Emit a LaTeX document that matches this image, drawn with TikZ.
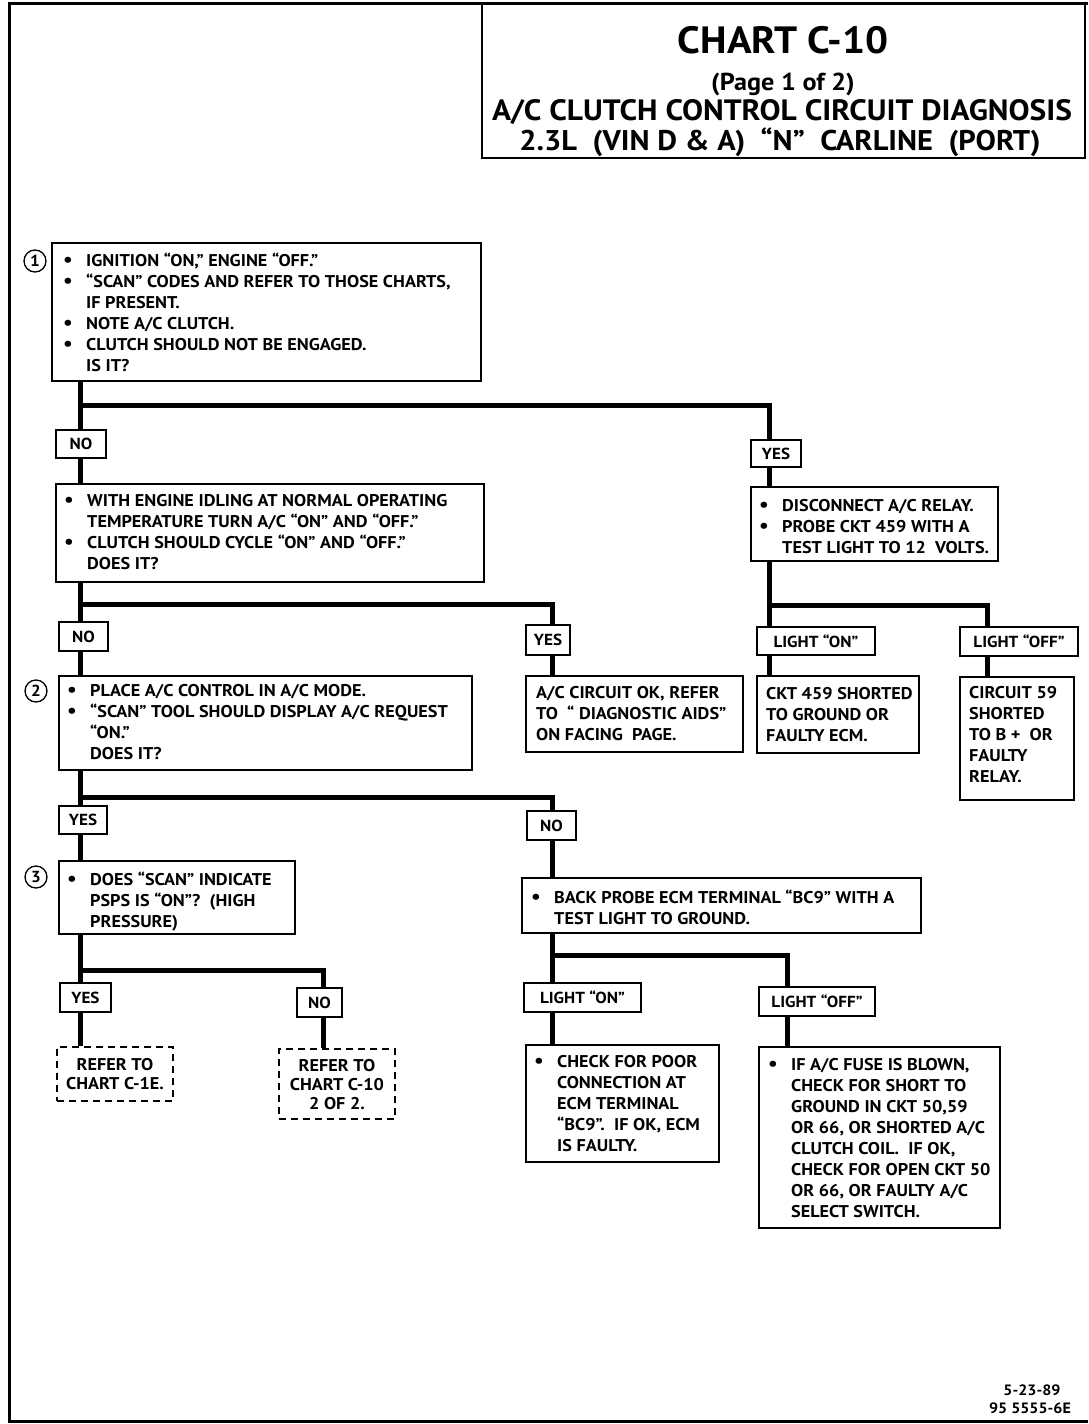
\documentclass[tikz,border=0pt]{standalone}
\usepackage{fontspec}
\setmainfont{PT Sans}[FakeStretch=1.07]
\usetikzlibrary{fit}
\newcommand{\bl}{\makebox[23pt][l]{\fontsize{20}{20}\selectfont •}}
\newcommand{\ct}{\hspace*{23pt}}
\tikzset{
 box/.style={draw, line width=1.6pt, inner sep=0pt},
 dbox/.style={draw, line width=1.6pt, dash pattern=on 7pt off 5pt, inner sep=0pt},
 lab/.style={draw, line width=1.6pt, inner sep=0pt, font=\bfseries\fontsize{16}{18}\selectfont},
 txt/.style={anchor=north west, inner sep=0pt, align=left, font=\bfseries\fontsize{17}{21}\selectfont},
 ctxt/.style={align=center, inner sep=0pt, font=\bfseries\fontsize{17}{19}\selectfont},
 conn/.style={line width=5pt},
 num/.style={circle, draw, line width=1.3pt, minimum size=22pt, inner sep=0pt, font=\bfseries\fontsize{16}{16}\selectfont},
 frame/.style={line width=3pt}
}
\begin{document}
\begin{tikzpicture}[x=1pt,y=-1pt]
\useasboundingbox (0,0) rectangle (1088,1424);
% frame
\draw[frame] (1088,3) -- (9,3) -- (9,1421) -- (1088,1421);
\node[box, fit={(482,3) (1085,158)}] (title) {};
\node[font=\bfseries\fontsize{38}{38}\selectfont] (t1) at (783,40) {CHART C-10};
\node[font=\bfseries\fontsize{24.5}{24.5}\selectfont] (t2) at (783,84) {(Page 1 of 2)};
\node[font=\bfseries\fontsize{29.4}{29.4}\selectfont] (t3) at (782,112) {A/C CLUTCH CONTROL CIRCUIT DIAGNOSIS};
\node[font=\bfseries\fontsize{28.5}{28.5}\selectfont] (t4) at (780,142) {2.3L\ \ (VIN D \& A)\ \ “N”\ \ CARLINE\ \ (PORT)};

% boxes
\node[box, fit={(52,243) (481,381)}] (b1) {};
\node[txt] (b1t) at (63,253) {\bl IGNITION “ON,” ENGINE “OFF.”\\
\bl “SCAN” CODES AND REFER TO THOSE CHARTS,\\
\ct IF PRESENT.\\
\bl NOTE A/C CLUTCH.\\
\bl CLUTCH SHOULD NOT BE ENGAGED.\\
\ct IS IT?};
\node[num] (n1) at (35,261) {1};

\node[box, fit={(56,484) (484,582)}] (b2) {};
\node[txt] (b2t) at (64,494) {\bl WITH ENGINE IDLING AT NORMAL OPERATING\\
\ct TEMPERATURE TURN A/C “ON” AND “OFF.”\\
\bl CLUTCH SHOULD CYCLE “ON” AND “OFF.”\\
\ct DOES IT?};

\node[box, fit={(59,676) (472,770)}] (b3) {};
\node[txt] (b3t) at (67,684) {\bl PLACE A/C CONTROL IN A/C MODE.\\
\bl “SCAN” TOOL SHOULD DISPLAY A/C REQUEST\\
\ct “ON.”\\
\ct DOES IT?};
\node[num] (n2) at (36,691) {2};

\node[box, fit={(59,861) (295,934)}] (b4) {};
\node[txt] (b4t) at (67,872) {\bl DOES “SCAN” INDICATE\\
\ct PSPS IS “ON”?\ \ (HIGH\\
\ct PRESSURE)};
\node[num] (n3) at (36,877) {3};

\node[dbox, fit={(57,1047) (173,1101)}] (r1) {};
\node[ctxt] (r1t) at (115,1074) {REFER TO\\CHART C-1E.};
\node[dbox, fit={(279,1049) (395,1119)}] (r2) {};
\node[ctxt] (r2t) at (337,1085) {REFER TO\\CHART C-10\\2 OF 2.};

\node[box, fit={(751,487) (998,561)}] (b5) {};
\node[txt] (b5t) at (759,499) {\bl DISCONNECT A/C RELAY.\\
\bl PROBE CKT 459 WITH A\\
\ct TEST LIGHT TO 12\ \ VOLTS.};

\node[box, fit={(526,676) (743,752)}] (b6) {};
\node[txt] (b6t) at (536,686) {A/C CIRCUIT OK, REFER\\
TO\ \ “ DIAGNOSTIC AIDS”\\
ON FACING\ \ PAGE.};

\node[box, fit={(757,676) (919,753)}] (b7) {};
\node[txt] (b7t) at (766,687) {CKT 459 SHORTED\\TO GROUND OR\\FAULTY ECM.};

\node[box, fit={(960,677) (1074,800)}] (b8) {};
\node[txt] (b8t) at (969,686) {CIRCUIT 59\\SHORTED\\TO B +\ \ OR\\FAULTY\\RELAY.};

\node[box, fit={(522,878) (921,933)}] (b9) {};
\node[txt] (b9t) at (531,890) {\bl BACK PROBE ECM TERMINAL “BC9” WITH A\\
\ct TEST LIGHT TO GROUND.};

\node[box, fit={(526,1045) (719,1162)}] (b10) {};
\node[txt] (b10t) at (534,1055) {\bl CHECK FOR POOR\\
\ct CONNECTION AT\\
\ct ECM TERMINAL\\
\ct “BC9”.\ \ IF OK, ECM\\
\ct IS FAULTY.};

\node[box, fit={(759,1047) (1000,1228)}] (b11) {};
\node[txt] (b11t) at (768,1058) {\bl IF A/C FUSE IS BLOWN,\\
\ct CHECK FOR SHORT TO\\
\ct GROUND IN CKT 50,59\\
\ct OR 66, OR SHORTED A/C\\
\ct CLUTCH COIL.\ \ IF OK,\\
\ct CHECK FOR OPEN CKT 50\\
\ct OR 66, OR FAULTY A/C\\
\ct SELECT SWITCH.};

% labels
\node[lab, minimum width=50pt, minimum height=28pt] (no1) at (81,444) {NO};
\node[lab, minimum width=50pt, minimum height=27pt] (yes1) at (776,453.5) {YES};
\node[lab, minimum width=49pt, minimum height=29pt] (no2) at (83.5,636.5) {NO};
\node[lab, minimum width=44pt, minimum height=30pt] (yes2) at (548,640) {YES};
\node[lab, minimum width=118pt, minimum height=28pt] (lon1) at (816,641) {LIGHT “ON”};
\node[lab, minimum width=118pt, minimum height=29pt] (loff1) at (1019,641.5) {LIGHT “OFF”};
\node[lab, minimum width=48pt, minimum height=28pt] (yes3) at (83,820) {YES};
\node[lab, minimum width=49pt, minimum height=29pt] (no3) at (551.5,825.5) {NO};
\node[lab, minimum width=51pt, minimum height=29pt] (yes4) at (85.5,997.5) {YES};
\node[lab, minimum width=45pt, minimum height=29pt] (no4) at (319.5,1002.5) {NO};
\node[lab, minimum width=117pt, minimum height=29pt] (lon2) at (582.5,997.5) {LIGHT “ON”};
\node[lab, minimum width=116pt, minimum height=29pt] (loff2) at (817,1001.5) {LIGHT “OFF”};

% junctions
\coordinate (jA1) at (80,405);  \coordinate (jB1) at (769,405);
\coordinate (jA2) at (80,604);  \coordinate (jD2) at (552,604);
\coordinate (jB2) at (769,605); \coordinate (jC2) at (987,605);
\coordinate (jA3) at (80,797);  \coordinate (jD3) at (552,797);
\coordinate (jA4) at (80,970);  \coordinate (jE4) at (323,970);
\coordinate (jD5) at (552,955); \coordinate (jF5) at (787,955);

% connectors
\draw[conn] (b1.south -| jA1) -- (jA1) -- (jB1) -- (yes1.north -| jB1);
\draw[conn] (jA1) -- (no1.north -| jA1);
\draw[conn] (no1.south -| jA1) -- (b2.north -| jA1);
\draw[conn] (yes1.south -| jB1) -- (b5.north -| jB1);
\draw[conn] (b2.south -| jA2) -- (jA2) -- (jD2) -- (yes2.north -| jD2);
\draw[conn] (jA2) -- (no2.north -| jA2);
\draw[conn] (no2.south -| jA2) -- (b3.north -| jA2);
\draw[conn] (yes2.south -| jD2) -- (b6.north -| jD2);
\draw[conn] (b5.south -| jB2) -- (jB2) -- (jC2) -- (loff1.north -| jC2);
\draw[conn] (jB2) -- (lon1.north -| jB2);
\draw[conn] (lon1.south -| jB2) -- (b7.north -| jB2);
\draw[conn] (loff1.south -| jC2) -- (b8.north -| jC2);
\draw[conn] (b3.south -| jA3) -- (jA3) -- (jD3) -- (no3.north -| jD3);
\draw[conn] (jA3) -- (yes3.north -| jA3);
\draw[conn] (yes3.south -| jA3) -- (b4.north -| jA3);
\draw[conn] (no3.south -| jD3) -- (b9.north -| jD3);
\draw[conn] (b4.south -| jA4) -- (jA4) -- (jE4) -- (no4.north -| jE4);
\draw[conn] (jA4) -- (yes4.north -| jA4);
\draw[conn] (yes4.south -| jA4) -- (r1.north -| jA4);
\draw[conn] (no4.south -| jE4) -- (r2.north -| jE4);
\draw[conn] (b9.south -| jD5) -- (jD5) -- (jF5) -- (loff2.north -| jF5);
\draw[conn] (jD5) -- (lon2.north -| jD5);
\draw[conn] (lon2.south -| jD5) -- (b10.north -| jD5);
\draw[conn] (loff2.south -| jF5) -- (b11.north -| jF5);

% figure id
\node[font=\bfseries\fontsize{15}{15}\selectfont] (id1) at (1032,1390) {5-23-89};
\node[font=\bfseries\fontsize{15}{15}\selectfont] (id2) at (1030,1408) {95 5555-6E};
\end{tikzpicture}
\end{document}
